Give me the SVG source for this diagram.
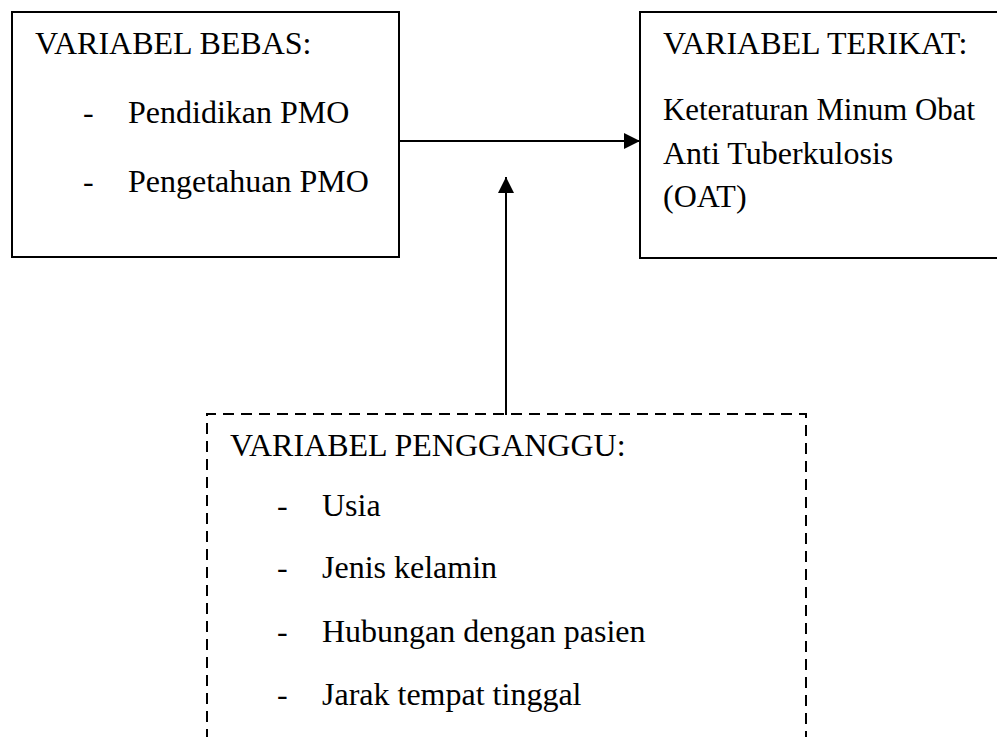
<svg xmlns="http://www.w3.org/2000/svg" width="997" height="737" viewBox="0 0 997 737">
<style>
.box{fill:none;stroke:#000;stroke-width:2}
.dash{fill:none;stroke:#000;stroke-width:2;stroke-dasharray:11 7}
.t{font-family:"Liberation Serif","Times New Roman",serif;font-size:32px;fill:#000}
.ln{stroke:#000;stroke-width:2;fill:none}
</style>
<defs>
<marker id="ah" viewBox="0 0 16 16" refX="16" refY="8" markerWidth="16" markerHeight="16" markerUnits="userSpaceOnUse" orient="auto">
<path d="M0,0 L16,8 L0,16 Z" fill="#000"/>
</marker>
</defs>
<rect width="997" height="737" fill="#fff"/>
<g id="bebas">
<rect class="box" x="12" y="12" width="387" height="245"/>
<text class="t" x="35" y="54">VARIABEL BEBAS:</text>
<text class="t" x="83" y="123">-</text>
<text class="t" x="128" y="123">Pendidikan PMO</text>
<text class="t" x="83" y="192">-</text>
<text class="t" x="128" y="192">Pengetahuan PMO</text>
</g>
<g id="terikat">
<rect class="box" x="640" y="12" width="380" height="246"/>
<text class="t" x="663" y="54">VARIABEL TERIKAT:</text>
<text class="t" x="663" y="120" textLength="312" lengthAdjust="spacingAndGlyphs">Keteraturan Minum Obat</text>
<text class="t" x="663" y="164">Anti Tuberkulosis</text>
<text class="t" x="663" y="207">(OAT)</text>
</g>
<g id="pengganggu">
<path class="dash" d="M207,740 L207,414 L806,414 L806,740"/>
<text class="t" x="230" y="456">VARIABEL PENGGANGGU:</text>
<text class="t" x="277" y="516">-</text>
<text class="t" x="322" y="516">Usia</text>
<text class="t" x="277" y="578">-</text>
<text class="t" x="322" y="578">Jenis kelamin</text>
<text class="t" x="277" y="642">-</text>
<text class="t" x="322" y="642">Hubungan dengan pasien</text>
<text class="t" x="277" y="705">-</text>
<text class="t" x="322" y="705">Jarak tempat tinggal</text>
</g>
<g id="connectors">
<line class="ln" x1="399" y1="141" x2="640" y2="141" marker-end="url(#ah)"/>
<line class="ln" x1="506" y1="415" x2="506" y2="177" marker-end="url(#ah)"/>
</g>
</svg>
